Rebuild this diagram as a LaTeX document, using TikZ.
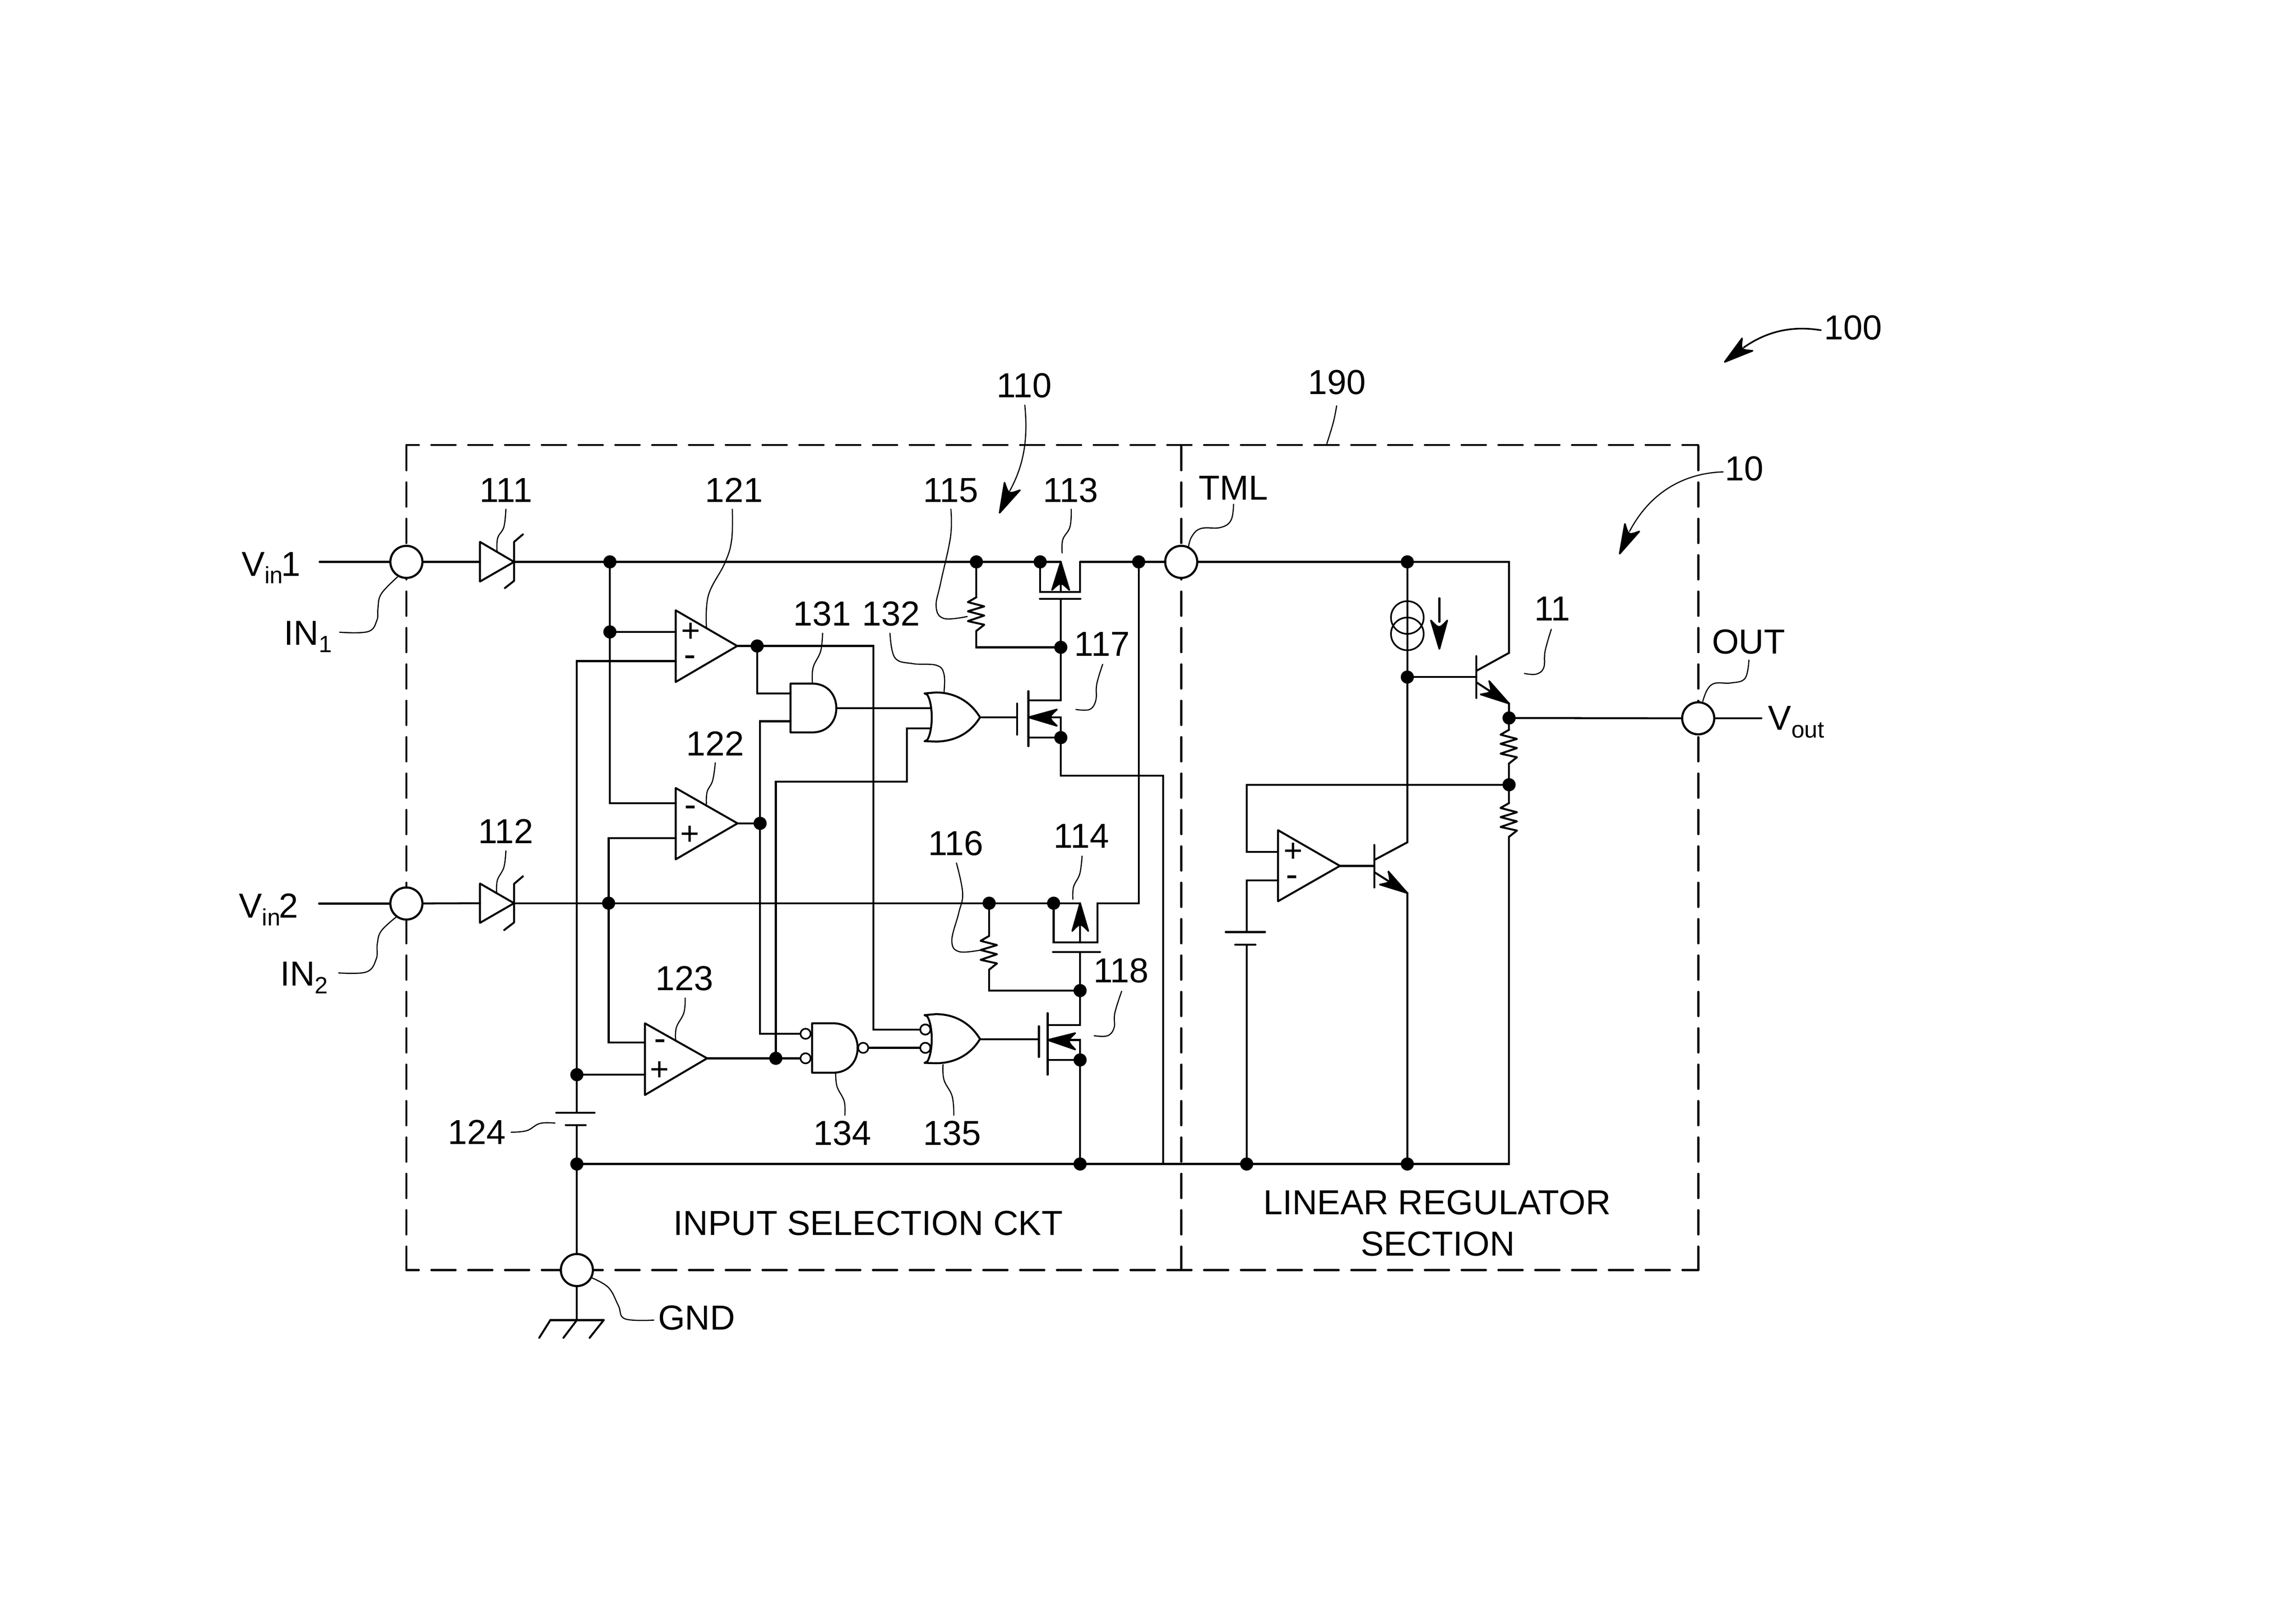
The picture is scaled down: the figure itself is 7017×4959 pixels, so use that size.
\documentclass[tikz,border=0pt]{standalone}
\usepackage{fontspec}
\setmainfont{Liberation Sans}
\usetikzlibrary{calc}
\newcommand\subs[1]{\raisebox{-23pt}{\fontsize{72}{80}\selectfont #1}}
\newcommand\ahd[3]{\filldraw[headstyle] #1 -- #2 .. controls ($#2!.5!#3!.3!#1$) .. #3 -- cycle;}
\newcommand\leadr[1]{\draw[leader] plot[smooth,tension=.65] coordinates {#1};}
\tikzset{
  wire/.style={line width=6pt,line join=miter,line cap=round},
  leader/.style={line width=3.5pt,line cap=round},
  headstyle/.style={line width=5pt,line join=round,fill=black},
  hdash/.style={line width=6.5pt,line cap=round,dash pattern=on 74pt off 38.45pt,dash phase=36pt},
  vdash/.style={line width=6.5pt,line cap=round,dash pattern=on 74pt off 37.2pt,dash phase=-3pt},
  term/.style={circle,draw,fill=white,line width=6.5pt,minimum size=98pt,inner sep=0pt},
  dot/.style={circle,fill=black,minimum size=40pt,inner sep=0pt},
  bub/.style={circle,draw,fill=white,line width=5pt,minimum size=31pt,inner sep=0pt},
  lbl/.style={inner sep=0pt,anchor=base,font=\fontsize{106}{127}\selectfont},
  lblw/.style={inner sep=0pt,anchor=base west,font=\fontsize{106}{127}\selectfont},
  sgn/.style={inner sep=0pt,anchor=center,font=\fontsize{100}{110}\selectfont},
  sgm/.style={inner sep=0pt,anchor=center,font=\fontsize{110}{120}\selectfont},
  resistor/.pic={\draw[wire,line join=round] (0,0) -- (-26,15) -- (24,28) -- (-26,43) -- (24,56) -- (-26,73) -- (24,84) -- (0,103);},
  orgate/.pic={\draw[wire,line join=round] (0,-73) -- (34,-76) .. controls (99,-76) and (144,-42) .. (169,0) .. controls (144,42) and (99,74) .. (34,74) -- (0,73);
     \draw[wire,line join=round] (0,-73) -- (8,-69) .. controls (26,-40) and (26,40) .. (8,69) -- (0,73);},
}
\begin{document}
\begin{tikzpicture}[x=1pt,y=-1pt]
\useasboundingbox (0,0) rectangle (7017,4959);
\fill[white] (0,0) rectangle (7017,4959);

% dashed frames
\draw[hdash] (1242,1360) -- (5190,1360);
\draw[hdash] (1242,3881) -- (5190,3881);
\draw[vdash] (1242,1360) -- (1242,3881);
\draw[vdash] (3610,1360) -- (3610,3881);
\draw[vdash] (5190,1360) -- (5190,3881);

% terminals
\node[term] (in1) at (1242,1717) {};
\node[term] (in2) at (1242,2761) {};
\node[term] (tml) at (3610,1717) {};
\node[term] (out) at (5190,2195) {};
\node[term] (gnd) at (1763,3881) {};

% junction dots
\node[dot] (d1) at (1864,1717) {};
\node[dot] (d2) at (1864,1931) {};
\node[dot] (d3) at (2984,1717) {};
\node[dot] (d4) at (3179,1717) {};
\node[dot] (d5) at (3480,1717) {};
\node[dot] (d6) at (2314,1974) {};
\node[dot] (d7) at (3242,1978) {};
\node[dot] (d8) at (3242,2254) {};
\node[dot] (d9) at (2323,2516) {};
\node[dot] (d10) at (1860,2760) {};
\node[dot] (d11) at (3023,2760) {};
\node[dot] (d12) at (3220,2760) {};
\node[dot] (d13) at (3301,3027) {};
\node[dot] (d14) at (3301,3239) {};
\node[dot] (d15) at (2371,3234) {};
\node[dot] (d16) at (1763,3284) {};
\node[dot] (d17) at (1763,3557) {};
\node[dot] (d18) at (3301,3557) {};
\node[dot] (d19) at (3810,3557) {};
\node[dot] (d20) at (4301,3557) {};
\node[dot] (d21) at (4301,1717) {};
\node[dot] (d22) at (4301,2069) {};
\node[dot] (d23) at (4612,2194) {};
\node[dot] (d24) at (4612,2398) {};

% inversion bubbles
\node[bub] (b134a) at (2462,3159) {};
\node[bub] (b134b) at (2462,3234) {};
\node[bub] (b134o) at (2638,3202) {};
\node[bub] (b135a) at (2828,3146) {};
\node[bub] (b135b) at (2828,3202) {};

% named pins
\coordinate (v1) at (977,1717);
\coordinate (v2) at (975,2761);
\coordinate (vo) at (5383,2195);
\coordinate (z1a) at (1467,1717);
\coordinate (z1k) at (1571,1717);
\coordinate (z2a) at (1467,2760);
\coordinate (z2k) at (1571,2760);
\coordinate (c1p) at (2065,1931);
\coordinate (c1m) at (2065,2020);
\coordinate (c1o) at (2253,1974);
\coordinate (c2m) at (2065,2455);
\coordinate (c2p) at (2065,2561);
\coordinate (c2o) at (2254,2516);
\coordinate (c3m) at (1971,3186);
\coordinate (c3p) at (1971,3284);
\coordinate (c3o) at (2161,3234);
\coordinate (a1a) at (2416,2119);
\coordinate (a1b) at (2416,2204);
\coordinate (a1o) at (2556,2164);
\coordinate (o1a) at (2844,2164);
\coordinate (o1b) at (2844,2226);
\coordinate (o1o) at (2995,2192);
\coordinate (o2o) at (2995,3176);
\coordinate (r1t) at (2984,1825);
\coordinate (r1b) at (2984,1928);
\coordinate (r2t) at (3023,2860);
\coordinate (r2b) at (3023,2963);
\coordinate (r3t) at (4612,2230);
\coordinate (r3b) at (4612,2333);
\coordinate (r4t) at (4612,2454);
\coordinate (r4b) at (4612,2557);
\coordinate (j1) at (2669,1974);
\coordinate (j2) at (2772,2226);
\coordinate (j3) at (2371,2389);
\coordinate (j4) at (3555,2370);
\coordinate (j5) at (3810,2500);
\coordinate (p1s) at (3242,1717);
\coordinate (p1d) at (3301,1717);
\coordinate (p1c) at (3242,1809);
\coordinate (p1g) at (3242,1830);
\coordinate (p2s) at (3301,2760);
\coordinate (p2d) at (3354,2760);
\coordinate (p2c) at (3301,2880);
\coordinate (p2g) at (3301,2909);
\coordinate (n1g) at (3108,2192);
\coordinate (n1d) at (3143,2140);
\coordinate (n1s) at (3143,2192);
\coordinate (n1b) at (3143,2254);
\coordinate (n2g) at (3175,3176);
\coordinate (n2d) at (3202,3132);
\coordinate (n2s) at (3202,3178);
\coordinate (n2b) at (3202,3239);
\coordinate (bus1) at (3555,3557);
\coordinate (bus2) at (4612,3557);
\coordinate (top2) at (4612,1717);
\coordinate (q1b) at (4512,2069);
\coordinate (q1c) at (4512,2050);
\coordinate (q1ck) at (4612,1995);
\coordinate (q1e) at (4512,2085);
\coordinate (q1ek) at (4612,2150);
\coordinate (a5p) at (3906,2603);
\coordinate (a5m) at (3906,2690);
\coordinate (a5o) at (4095,2646);
\coordinate (q2b) at (4200,2646);
\coordinate (q2c) at (4200,2628);
\coordinate (q2ck) at (4301,2574);
\coordinate (q2e) at (4200,2665);
\coordinate (q2ek) at (4301,2729);
\coordinate (bt1) at (1763,3400);
\coordinate (bt2) at (1763,3438);
\coordinate (bt3) at (3810,2848);
\coordinate (bt4) at (3810,2887);
\coordinate (gg) at (1763,4034);

% rails
\draw[wire] (v1) -- (in1);
\draw[wire] (in1) -- (z1a);
\draw[wire] (z1k) -- (d1);
\draw[wire] (d1) -- (d3);
\draw[wire] (d3) -- (d4);
\draw[wire] (d4) -- (p1s);
\draw[wire] (p1d) -- (d5);
\draw[wire] (d5) -- (tml);
\draw[wire] (tml) -- (d21);
\draw[wire] (d21) -- (top2) -- (q1ck) -- (q1c);
\draw[wire] (v2) -- (in2);
\draw[wire] (in2) -- (z2a);
\draw[wire] (z2k) -- (d10);
\draw[wire] (d10) -- (d11);
\draw[wire] (d11) -- (d12);
\draw[wire] (d12) -- (p2s);
\draw[wire] (d17) -- (d18);
\draw[wire] (d18) -- (bus1) -- (d19);
\draw[wire] (d19) -- (d20);
\draw[wire] (d20) -- (bus2) -- (r4b);
\draw[wire] (d23) -- (out);
\draw[wire] (out) -- (vo);

% comparator inputs
\draw[wire] (d1) -- (d2);
\draw[wire] (d2) -- (c1p);
\draw[wire] (d2) |- (c2m);
\draw[wire] (d16) |- (c1m);
\draw[wire] (d10) |- (c2p);
\draw[wire] (d10) |- (c3m);
\draw[wire] (d16) -- (c3p);
\draw[wire] (d16) -- (bt1);
\draw[wire] (bt2) -- (d17);
\draw[wire] (d17) -- (gnd);
\draw[wire] (gnd) -- (gg);

% logic
\draw[wire] (c1o) -- (d6);
\draw[wire] (d6) -- (j1) |- (b135a);
\draw[wire] (d6) |- (a1a);
\draw[wire] (c2o) -- (d9);
\draw[wire] (d9) |- (a1b);
\draw[wire] (d9) |- (b134a);
\draw[wire] (c3o) -- (d15);
\draw[wire] (d15) -- (b134b);
\draw[wire] (d15) -- (j3) -| (j2) -- (o1b);
\draw[wire] (a1o) -- (o1a);
\draw[wire] (o1o) -- (n1g);
\draw[wire] (o2o) -- (n2g);
\draw[wire] (b134o) -- (b135b);

% switches 113, 117
\draw[wire] (d3) -- (r1t);
\draw[wire] (r1b) |- (d7);
\draw[wire] (d4) |- (p1c);
\draw[wire] (p1c) -| (p1d);
\draw[wire] (p1c) -- (p1s);
\draw[wire] (p1g) -- (d7);
\draw[wire] (d7) |- (n1d);
\draw[wire] (n1s) -| (d8);
\draw[wire] (n1b) -- (d8);
\draw[wire] (d8) |- (j4) -- (bus1);
\draw[wire] (3178,1830) -- (3302,1830);
\draw[wire] (3108,2150) -- (3108,2245);
\draw[wire] (3143,2112) -- (3143,2280);

% switches 114, 118
\draw[wire] (d5) |- (p2d);
\draw[wire] (p2d) |- (p2c);
\draw[wire] (d12) |- (p2c);
\draw[wire] (p2c) -- (p2s);
\draw[wire] (p2g) -- (d13);
\draw[wire] (d13) |- (n2d);
\draw[wire] (n2s) -| (d14);
\draw[wire] (n2b) -- (d14);
\draw[wire] (d14) -- (d18);
\draw[wire] (d11) -- (r2t);
\draw[wire] (r2b) |- (d13);
\draw[wire] (3218,2909) -- (3362,2909);
\draw[wire] (3175,3136) -- (3175,3230);
\draw[wire] (3202,3096) -- (3202,3284);

% regulator
\draw[wire] (d21) -- (d22);
\draw[wire] (d22) -- (q1b);
\draw[wire] (d22) -- (q2ck) -- (q2c);
\draw[wire] (q2e) -- (q2ek) -- (d20);
\draw[wire] (q1e) -- (q1ek) -- (d23);
\draw[wire] (d23) -- (r3t);
\draw[wire] (r3b) -- (d24);
\draw[wire] (d24) -- (r4t);
\draw[wire] (d24) -| (j5) |- (a5p);
\draw[wire] (a5m) -| (bt3);
\draw[wire] (bt4) -- (d19);
\draw[wire] (a5o) -- (q2b);
\draw[wire] (4512,2005) -- (4512,2133);
\draw[wire] (4200,2582) -- (4200,2712);
\draw[wire,line width=5pt] (4301,1887) circle (50);
\draw[wire,line width=5pt] (4301,1937) circle (50);
\draw[wire] (4399,1828) -- (4399,1900);

% batteries
\draw[wire] (1700,3400) -- (1817,3400);
\draw[wire] (1729,3438) -- (1790,3438);
\draw[wire] (3746,2848) -- (3866,2848);
\draw[wire] (3775,2887) -- (3837,2887);

% ground
\draw[wire] (1682,4034) -- (1845,4034);
\draw[wire] (1682,4034) -- (1648,4088);
\draw[wire] (1763,4034) -- (1722,4088);
\draw[wire] (1845,4034) -- (1802,4088);

% zener diodes
\draw[wire,line join=round] (1467,1656) -- (1571,1717) -- (1467,1777) -- cycle;
\draw[wire,line join=round] (1598,1633) -- (1571,1656) -- (1571,1775) -- (1543,1797);
\draw[wire,line join=round] (1467,2700) -- (1571,2760) -- (1467,2820) -- cycle;
\draw[wire,line join=round] (1598,2678) -- (1571,2701) -- (1571,2819) -- (1541,2842);

% comparators
\draw[wire,line join=round] (2065,1865) -- (2253,1974) -- (2065,2084) -- cycle;
\draw[wire,line join=round] (2065,2408) -- (2254,2516) -- (2065,2626) -- cycle;
\draw[wire,line join=round] (1971,3127) -- (2161,3234) -- (1971,3346) -- cycle;
\draw[wire,line join=round] (3906,2537) -- (4095,2646) -- (3906,2754) -- cycle;
\node[sgn] (s1p) at (2111,1932) {+};
\node[sgm] (s1m) at (2109,2020) {-};
\node[sgm] (s2m) at (2110,2479) {-};
\node[sgn] (s2p) at (2108,2553) {+};
\node[sgm] (s3m) at (2017,3193) {-};
\node[sgn] (s3p) at (2016,3272) {+};
\node[sgn] (s5p) at (3952,2605) {+};
\node[sgm] (s5m) at (3949,2693) {-};

% gates
\draw[wire,line join=round] (2416,2089) -- (2483,2089) .. controls (2530,2089) and (2556,2125) .. (2556,2164) .. controls (2556,2203) and (2530,2238) .. (2483,2238) -- (2416,2238) -- cycle;
\draw[wire,line join=round] (2482,3127) -- (2546,3127) .. controls (2595,3127) and (2621,3162) .. (2621,3202) .. controls (2621,3242) and (2595,3278) .. (2546,3278) -- (2482,3278) -- cycle;
\pic at (2826,2192) {orgate};
\pic at (2826,3175) {orgate};
\node[bub] at (b135a) {};
\node[bub] at (b135b) {};

% resistors
\pic at (r1t) {resistor};
\pic at (r2t) {resistor};
\pic at (r3t) {resistor};
\pic at (r4t) {resistor};

% arrowheads
\ahd{(3242,1717)}{(3215,1803)}{(3268,1803)}
\ahd{(3301,2760)}{(3277,2845)}{(3326,2845)}
\ahd{(3143,2192)}{(3230,2168)}{(3230,2218)}
\ahd{(3202,3178)}{(3286,3157)}{(3286,3207)}
\ahd{(4612,2150)}{(4551,2081)}{(4525,2122)}
\ahd{(4301,2729)}{(4243,2663)}{(4217,2703)}
\ahd{(4399,1983)}{(4373,1896)}{(4423,1896)}
\ahd{(3055,1567)}{(3070,1475)}{(3117,1498)}
\ahd{(5271,1106)}{(5324,1034)}{(5356,1072)}
\ahd{(4950,1692)}{(4966,1601)}{(5010,1624)}

% labels
\node[lbl] (t111) at (1546,1534) {111};
\node[lbl] (t121) at (2243,1534) {121};
\node[lbl] (t131) at (2513,1912) {131};
\node[lbl] (t132) at (2723,1912) {132};
\node[lbl] (t122) at (2186,2309) {122};
\node[lbl] (t115) at (2906,1534) {115};
\node[lbl] (t113) at (3272,1534) {113};
\node[lbl] (t117) at (3368,2005) {117};
\node[lbl] (t110) at (3130,1214) {110};
\node[lbl] (t190) at (4086,1205) {190};
\node[lbl] (t112) at (1546,2577) {112};
\node[lbl] (t123) at (2092,3027) {123};
\node[lbl] (t124) at (1458,3497) {124};
\node[lbl] (t134) at (2575,3499) {134};
\node[lbl] (t135) at (2910,3499) {135};
\node[lbl] (t116) at (2921,2614) {116};
\node[lbl] (t114) at (3305,2591) {114};
\node[lbl] (t118) at (3426,3002) {118};
\node[lbl] (t11) at (4744,1896) {11};
\node[lbl] (t10) at (5331,1469) {10};
\node[lbl] (t100) at (5664,1038) {100};
\node[lbl] (tTML) at (3770,1527) {TML};
\node[lbl] (tOUT) at (5344,1998) {OUT};
\node[lbl] (tGND) at (2129,4064) {GND};
\node[lblw] (tv1) at (738,1760) {V\subs{in}\kern-6pt 1};
\node[lblw] (tv2) at (730,2805) {V\subs{in}\kern-5pt 2};
\node[lblw] (tin1) at (868,1971) {IN\subs{1}};
\node[lblw] (tin2) at (856,3013) {IN\subs{2}};
\node[lblw] (tvo) at (5404,2231) {V\subs{out}};
\node[lbl] (tsel) at (2653,3775) {INPUT SELECTION CKT};
\node[lbl] (tlin) at (4392,3711) {LINEAR REGULATOR};
\node[lbl] (tsec) at (4394,3838) {SECTION};

% leader lines
\leadr{(1546,1556) (1540,1610) (1521,1644) (1519,1684)}
\leadr{(2238,1556) (2236,1650) (2215,1721) (2165,1819) (2159,1917)}
\leadr{(2514,1935) (2508,1990) (2485,2040) (2483,2089)}
\leadr{(2186,2331) (2178,2385) (2161,2420) (2159,2457)}
\leadr{(2720,1935) (2735,2010) (2790,2028) (2862,2033) (2885,2060) (2885,2117)}
\leadr{(2906,1556) (2905,1640) (2875,1780) (2861,1854) (2885,1890) (2956,1884)}
\leadr{(3274,1556) (3270,1610) (3248,1649) (3246,1690)}
\leadr{(3370,2030) (3352,2090) (3349,2140) (3330,2168) (3288,2168)}
\leadr{(1546,2600) (1540,2650) (1520,2690) (1518,2729)}
\leadr{(2094,3050) (2090,3095) (2067,3140) (2065,3180)}
\leadr{(1562,3460) (1610,3455) (1650,3433) (1696,3432)}
\leadr{(2554,3278) (2558,3320) (2580,3365) (2582,3408)}
\leadr{(2882,3253) (2885,3300) (2910,3350) (2915,3408)}
\leadr{(2923,2637) (2942,2729) (2930,2790) (2909,2874) (2931,2908) (2998,2903)}
\leadr{(3307,2616) (3300,2670) (3281,2710) (3279,2748)}
\leadr{(3428,3029) (3407,3096) (3405,3140) (3385,3165) (3344,3165)}
\leadr{(4741,1923) (4722,1990) (4718,2040) (4695,2060) (4659,2058)}
\leadr{(3770,1541) (3762,1590) (3730,1612) (3670,1615) (3642,1640) (3632,1672)}
\leadr{(5345,2017) (5333,2073) (5290,2087) (5241,2088) (5218,2107) (5204,2143)}
\leadr{(1215,1763) (1165,1815) (1155,1860) (1152,1895) (1125,1930) (1038,1932)}
\leadr{(1210,2803) (1165,2845) (1153,2885) (1150,2930) (1120,2970) (1035,2973)}
\leadr{(1809,3905) (1860,3935) (1890,3990) (1910,4030) (1998,4034)}
\leadr{(4085,1240) (4075,1290) (4055,1356)}
\draw[leader] (3132,1238) .. controls (3142,1340) and (3130,1420) .. (3086,1500);
\draw[leader,line width=5pt] (5565,1009) .. controls (5490,997) and (5410,1005) .. (5329,1062);
\draw[leader] (5266,1442) .. controls (5140,1446) and (5040,1510) .. (4980,1624);
\end{tikzpicture}
\end{document}
